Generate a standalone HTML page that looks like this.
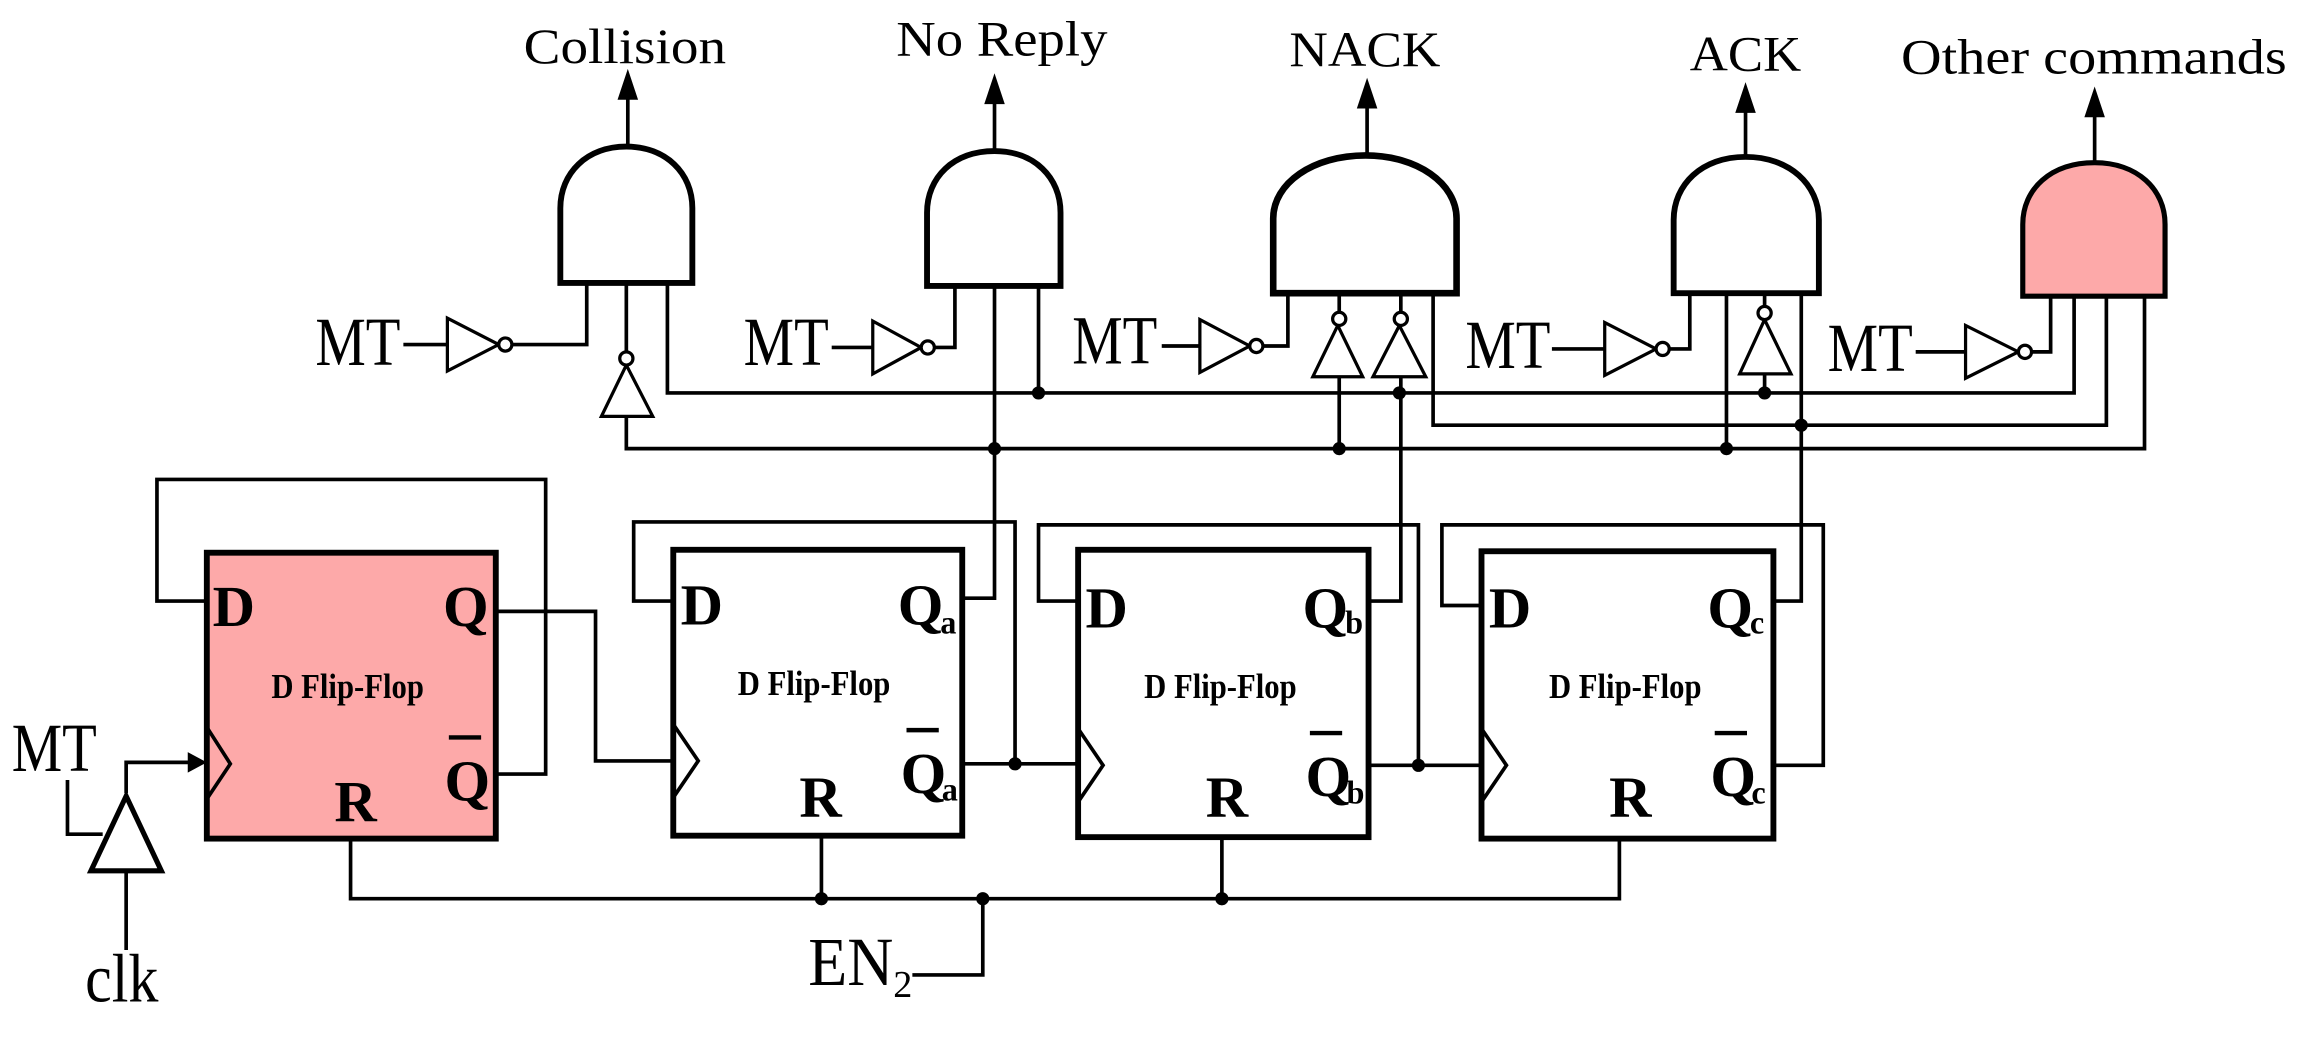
<!DOCTYPE html>
<html><head><meta charset="utf-8"><style>
html,body{margin:0;padding:0;background:#fff;}
svg{display:block;}
text{font-family:"Liberation Serif",serif;fill:#000;}
</style></head><body>
<svg width="2300" height="1038" viewBox="0 0 1568 708" preserveAspectRatio="none" xmlns="http://www.w3.org/2000/svg">
<g fill="none" stroke="#000" stroke-width="2.5">
<line x1="428" y1="100" x2="428" y2="64"/>
<line x1="678" y1="103" x2="678" y2="66"/>
<line x1="932" y1="106" x2="932" y2="69"/>
<line x1="1190" y1="107" x2="1190" y2="72"/>
<line x1="1428" y1="111" x2="1428" y2="75"/>
</g>
<g fill="#000">
<polygon points="428,47 421,68 435,68"/>
<polygon points="678,50 671,71 685,71"/>
<polygon points="932,53 925,74 939,74"/>
<polygon points="1190,56 1183,77 1197,77"/>
<polygon points="1428,59 1421,80 1435,80"/>
</g>
<!-- Gates -->
<g stroke="#000" stroke-width="4" fill="#fff">
<path d="M382 193 V142 C382 118 400 100 427 100 C454 100 472 118 472 142 V193 Z"/>
<path d="M632 195 V145 C632 121 650 103 678 103 C705 103 723 121 723 145 V195 Z"/>
<path d="M868 200 V149 C868 125 895 106 931 106 C966 106 993 125 993 149 V200 Z" stroke-width="4.5"/>
<path d="M1141 200 V150 C1141 126 1160 107 1190 107 C1220 107 1240 126 1240 150 V200 Z"/>
<path d="M1379 202 V153 C1379 129 1398 111 1428 111 C1457 111 1476 129 1476 153 V202 Z" fill="#FDA9A9" stroke-width="3.5"/>
</g>
<g fill="none" stroke="#000" stroke-width="2.5">
<polyline points="400,193 400,235 349,235"/>
<line x1="275" y1="235" x2="305" y2="235"/>
<line x1="427" y1="193" x2="427" y2="240"/>
<polyline points="427,284 427,306 1462,306 1462,202"/>
<polyline points="455,193 455,268 1414,268 1414,202"/>
<polyline points="651,195 651,237 637,237"/>
<line x1="567" y1="237" x2="595" y2="237"/>
<polyline points="678,195 678,408 656,408"/>
<line x1="708" y1="195" x2="708" y2="268"/>
<polyline points="878,200 878,236 861,236"/>
<line x1="792" y1="236" x2="818" y2="236"/>
<line x1="913" y1="200" x2="913" y2="213"/>
<line x1="913" y1="257" x2="913" y2="306"/>
<line x1="955" y1="200" x2="955" y2="213"/>
<polyline points="955,257 955,410 933,410"/>
<polyline points="977,200 977,290 1436,290 1436,202"/>
<polyline points="1152,200 1152,238 1138,238"/>
<line x1="1058" y1="238" x2="1094" y2="238"/>
<line x1="1177" y1="200" x2="1177" y2="306"/>
<line x1="1203" y1="200" x2="1203" y2="209"/>
<line x1="1203" y1="255" x2="1203" y2="268"/>
<polyline points="1228,200 1228,410 1209,410"/>
<polyline points="1398,202 1398,240 1385,240"/>
<line x1="1306" y1="240" x2="1340" y2="240"/>
</g>
<g fill="#fff" stroke="#000" stroke-width="2.2">
<polygon points="305,217 305,253 340,235"/><circle cx="344.5" cy="235" r="4.5"/>
<polygon points="595,219 595,255 628,237"/><circle cx="632.5" cy="237" r="4.5"/>
<polygon points="818,218 818,254 852,236"/><circle cx="856.5" cy="236" r="4.5"/>
<polygon points="1094,220 1094,256 1129,238"/><circle cx="1133.5" cy="238" r="4.5"/>
<polygon points="1340,222 1340,258 1376,240"/><circle cx="1380.5" cy="240" r="4.5"/>
<polygon points="427,249 410,284 445,284"/><circle cx="427" cy="244.5" r="4.5"/>
<polygon points="912,222 895,257 929,257"/><circle cx="913" cy="217.5" r="4.5"/>
<polygon points="954,222 936,257 972,257"/><circle cx="955" cy="217.5" r="4.5"/>
<polygon points="1203,218 1186,255 1221,255"/><circle cx="1203" cy="213.5" r="4.5"/>
</g>
<g stroke="#000" stroke-width="4">
<rect x="141" y="377" width="197" height="195" fill="#FDA9A9"/>
<rect x="459" y="375" width="197" height="195" fill="#fff"/>
<rect x="735" y="375" width="198" height="196" fill="#fff"/>
<rect x="1010" y="376" width="199" height="196" fill="#fff"/>
</g>
<g fill="none" stroke="#000" stroke-width="2.5">
<polyline points="141,496 157,521 141,545"/>
<polyline points="459,494 476,519 459,544"/>
<polyline points="735,497 752,522 735,547"/>
<polyline points="1010,497 1027,522 1010,547"/>
<polyline points="141,410 107,410 107,327 372,327 372,528 338,528"/>
<polyline points="338,417 406,417 406,519 459,519"/>
<polyline points="459,410 432,410 432,356 692,356 692,521"/>
<line x1="656" y1="521" x2="735" y2="521"/>
<polyline points="735,410 708,410 708,358 967,358 967,522"/>
<line x1="933" y1="522" x2="1010" y2="522"/>
<polyline points="1010,413 983,413 983,358 1243,358 1243,522 1209,522"/>
<polyline points="239,572 239,613 1104,613 1104,572"/>
<line x1="560" y1="570" x2="560" y2="613"/>
<line x1="833" y1="571" x2="833" y2="613"/>
<polyline points="670,613 670,665 622,665"/>
<polyline points="86,541 86,520 132,520"/>
<polyline points="46,532 46,569 70,569"/>
<line x1="86" y1="594" x2="86" y2="648"/>
</g>
<polygon points="141,520 128,513 128,527" fill="#000"/>
<polygon points="86,543 62,594 110,594" fill="#fff" stroke="#000" stroke-width="3.5"/>
<g fill="#000">
<circle cx="708" cy="268" r="4.5"/><circle cx="954" cy="268" r="4.5"/><circle cx="1203" cy="268" r="4.5"/>
<circle cx="1228" cy="290" r="4.5"/>
<circle cx="678" cy="306" r="4.5"/><circle cx="913" cy="306" r="4.5"/><circle cx="1177" cy="306" r="4.5"/>
<circle cx="692" cy="521" r="4.5"/><circle cx="967" cy="522" r="4.5"/>
<circle cx="560" cy="613" r="4.5"/><circle cx="670" cy="613" r="4.5"/><circle cx="833" cy="613" r="4.5"/>
</g>
<g font-size="34">
<text x="357" y="43" textLength="138" lengthAdjust="spacingAndGlyphs">Collision</text>
<text x="611" y="38" textLength="144" lengthAdjust="spacingAndGlyphs">No Reply</text>
<text x="879" y="45" textLength="103" lengthAdjust="spacingAndGlyphs">NACK</text>
<text x="1152" y="48" textLength="76" lengthAdjust="spacingAndGlyphs">ACK</text>
<text x="1296" y="50" textLength="263" lengthAdjust="spacingAndGlyphs">Other commands</text>
</g>
<g font-size="47">
<text x="215" y="249" textLength="58" lengthAdjust="spacingAndGlyphs">MT</text>
<text x="507" y="249" textLength="58" lengthAdjust="spacingAndGlyphs">MT</text>
<text x="731" y="248" textLength="58" lengthAdjust="spacingAndGlyphs">MT</text>
<text x="999" y="251" textLength="58" lengthAdjust="spacingAndGlyphs">MT</text>
<text x="1246" y="253" textLength="58" lengthAdjust="spacingAndGlyphs">MT</text>
<text x="8" y="526" textLength="58" lengthAdjust="spacingAndGlyphs">MT</text>
<text x="58" y="683" textLength="50" lengthAdjust="spacingAndGlyphs">clk</text>
<text x="551" y="672" textLength="58" lengthAdjust="spacingAndGlyphs">EN</text>
</g>
<text x="609" y="680" font-size="26">2</text>
<g font-size="40" font-weight="bold">
<text x="145" y="427">D</text><text x="302" y="427">Q</text>
<text x="303" y="546">Q</text><text x="228" y="560">R</text>
<text x="464" y="426">D</text><text x="612" y="426">Q</text>
<text x="614" y="541">Q</text><text x="545" y="557">R</text>
<text x="740" y="428">D</text><text x="888" y="428">Q</text>
<text x="890" y="543">Q</text><text x="822" y="557">R</text>
<text x="1015" y="428">D</text><text x="1164" y="428">Q</text>
<text x="1166" y="543">Q</text><text x="1097" y="557">R</text>
</g>
<g stroke="#000" stroke-width="3">
<line x1="306" y1="503" x2="328" y2="503"/>
<line x1="618" y1="498" x2="640" y2="498"/>
<line x1="893" y1="500" x2="915" y2="500"/>
<line x1="1169" y1="500" x2="1191" y2="500"/>
</g>
<g font-size="22" font-weight="bold">
<text x="641" y="432">a</text><text x="642" y="546">a</text>
<text x="917" y="432">b</text><text x="918" y="548">b</text>
<text x="1193" y="432">c</text><text x="1194" y="548">c</text>
</g>
<g font-size="24" font-weight="bold">
<text x="185" y="476" textLength="104" lengthAdjust="spacingAndGlyphs">D Flip-Flop</text>
<text x="503" y="474" textLength="104" lengthAdjust="spacingAndGlyphs">D Flip-Flop</text>
<text x="780" y="476" textLength="104" lengthAdjust="spacingAndGlyphs">D Flip-Flop</text>
<text x="1056" y="476" textLength="104" lengthAdjust="spacingAndGlyphs">D Flip-Flop</text>
</g>
</svg>
</body></html>
